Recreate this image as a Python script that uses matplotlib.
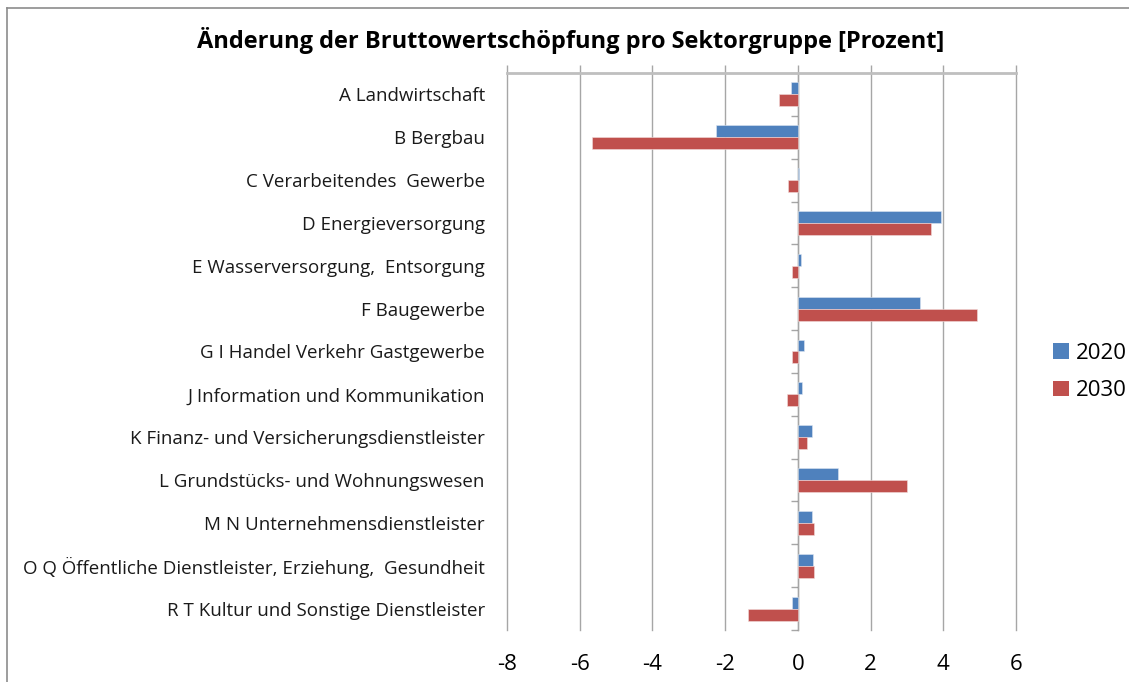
import matplotlib
matplotlib.use("Agg")
import matplotlib.pyplot as plt
from matplotlib.lines import Line2D
from matplotlib.patches import Patch
import numpy as np

plt.rcParams['font.family'] = ['Open Sans', 'DejaVu Sans']

categories = [
    "A Landwirtschaft",
    "B Bergbau",
    "C Verarbeitendes  Gewerbe",
    "D Energieversorgung",
    "E Wasserversorgung,  Entsorgung",
    "F Baugewerbe",
    "G I Handel Verkehr Gastgewerbe",
    "J Information und Kommunikation",
    "K Finanz- und Versicherungsdienstleister",
    "L Grundstücks- und Wohnungswesen",
    "M N Unternehmensdienstleister",
    "O Q Öffentliche Dienstleister, Erziehung,  Gesundheit",
    "R T Kultur und Sonstige Dienstleister",
]
series_names = ["2020", "2030"]
values_2020 = [-0.19, -2.25, 0.04, 3.95, 0.09, 3.35, 0.16, 0.11, 0.38, 1.11, 0.38, 0.41, -0.15]
values_2030 = [-0.51, -5.65, -0.26, 3.66, -0.15, 4.93, -0.15, -0.30, 0.26, 2.99, 0.44, 0.45, -1.37]
x_ticks = [-8, -6, -4, -2, 0, 2, 4, 6]

blue = "#4F81BD"
red = "#C0504D"

W, H = 1129, 682
fig = plt.figure(figsize=(W / 100, H / 100), dpi=100)
ax = fig.add_axes([507 / W, 1 - 630 / H, (1016 - 507) / W, (630 - 73) / H])

n = len(categories)
y = np.arange(n)
bh = 0.28
ax.barh(y - bh / 2, values_2020, height=bh, color=blue, edgecolor="#DCE6F2", linewidth=0.4, zorder=3)
ax.barh(y + bh / 2, values_2030, height=bh, color=red, edgecolor="#F2DCDB", linewidth=0.4, zorder=3)

ax.set_xlim(x_ticks[0], x_ticks[-1])
ax.set_ylim(n - 0.5, -0.5)
ax.set_xticks(x_ticks)
ax.set_xticklabels([str(t) for t in x_ticks], fontsize=16, color="#000000")
ax.xaxis.grid(True, color="#A6A6A6", linewidth=1.0, zorder=0)
for gl in ax.get_xgridlines():
    gl.set_clip_on(False)
ax.tick_params(axis='x', which='major', top=True, bottom=False, labeltop=False,
               labelbottom=True, direction='out', length=6, width=1.0, color="#A6A6A6", pad=11)

ax.set_yticks(y)
ax.set_yticklabels(categories, fontsize=13.5, color="#1a1a1a")
ax.tick_params(axis='y', length=0, pad=16)

for s in ["left", "right", "bottom"]:
    ax.spines[s].set_visible(False)
ax.spines["top"].set_color("#BFBFBF")
ax.spines["top"].set_linewidth(2)

# category axis at x = 0 with boundary ticks
loc0 = (0 - x_ticks[0]) / (x_ticks[-1] - x_ticks[0])
sec = ax.secondary_yaxis(loc0)
sec.set_yticks(np.arange(n + 1) - 0.5)
sec.set_yticklabels([])
sec.tick_params(axis='y', direction='in', length=5, width=1.0, color="#A6A6A6")
sec.spines["left"].set_color("#A6A6A6")
sec.spines["left"].set_linewidth(1.0)

fig.text(571 / W, 1 - 40 / H, "Änderung der Bruttowertschöpfung pro Sektorgruppe [Prozent]",
         ha="center", va="center", fontsize=17, fontweight="bold")

handles = [Patch(facecolor=blue, edgecolor="none"), Patch(facecolor=red, edgecolor="none")]
fig.legend(handles, series_names, loc="center left", bbox_to_anchor=(1033 / W, 1 - 372 / H),
           frameon=False, fontsize=16, handlelength=0.7, handleheight=0.7, handletextpad=0.35,
           labelspacing=0.75)

# outer frame
fig.add_artist(Line2D([7 / W, 7 / W], [0, 1 - 8 / H], transform=fig.transFigure, color="#8C8C8C", linewidth=1.2))
fig.add_artist(Line2D([7 / W, 1], [1 - 8 / H, 1 - 8 / H], transform=fig.transFigure, color="#8C8C8C", linewidth=1.2))

fig.savefig("out.png", dpi=100, facecolor="white")
